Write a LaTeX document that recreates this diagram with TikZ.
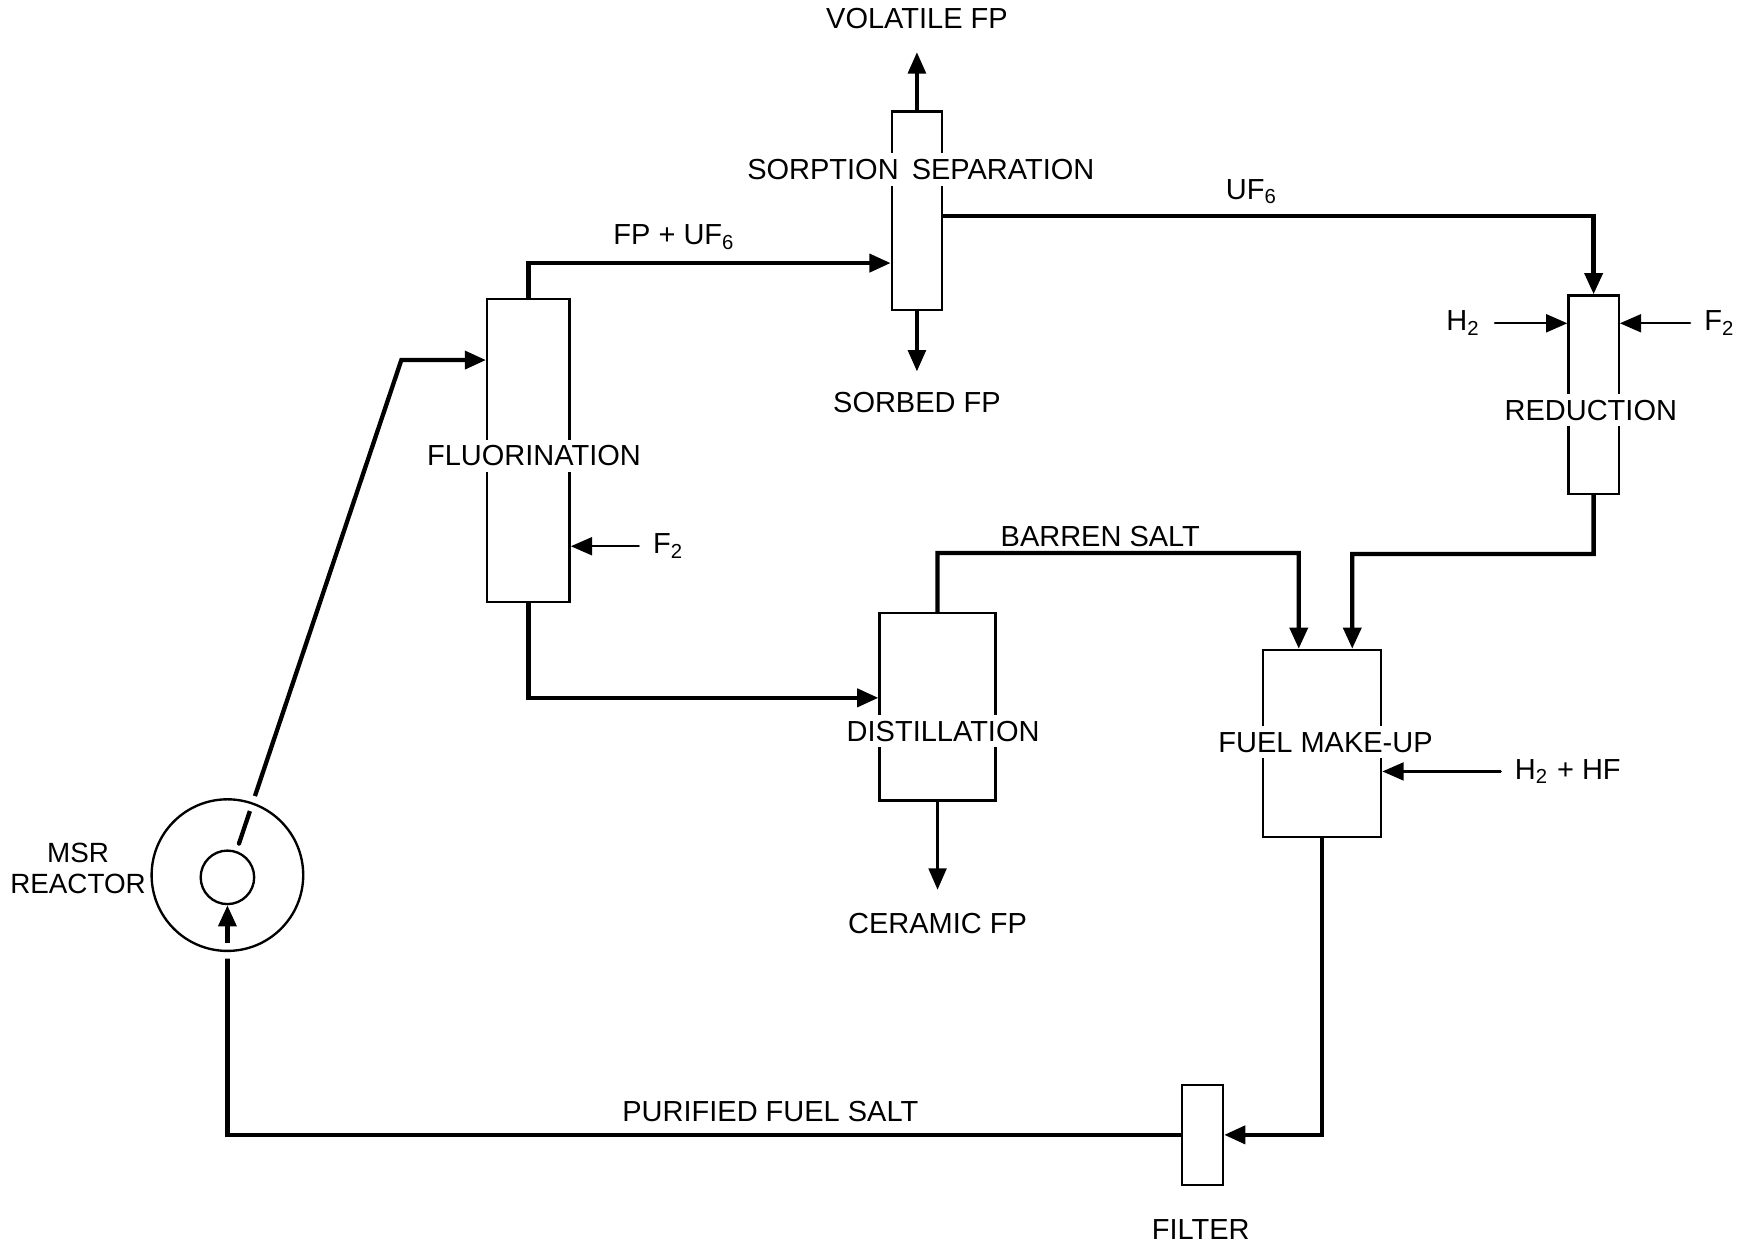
\documentclass[tikz,border=0pt]{standalone}
\usepackage{fontspec}
\setmainfont{Liberation Sans}
\usetikzlibrary{arrows.meta}

\begin{document}
\begin{tikzpicture}[>={Triangle[length=1.9mm,width=1.6mm]},font=\fontsize{7.4}{9}\selectfont,line cap=round,
  unit/.style={draw,line width=0.6pt,inner sep=0pt},
  flow/.style={line width=1.1pt},
  feed/.style={line width=0.6pt},
  cut/.style={fill=white,inner sep=1.5pt}]
\useasboundingbox (0,0) rectangle (15.68,-11.18);
\node[unit,minimum width=7.4mm,minimum height=27.2mm] (fluor) at (4.74,-4.04) {};
\node[unit,minimum width=4.5mm,minimum height=17.8mm] (sorp) at (8.225,-1.89) {};
\node[unit,minimum width=10.4mm,minimum height=16.8mm] (dist) at (8.41,-6.34) {};
\node[unit,minimum width=4.5mm,minimum height=17.8mm] (red) at (14.295,-3.54) {};
\node[unit,minimum width=10.6mm,minimum height=16.8mm] (fuel) at (11.86,-6.67) {};
\node[unit,minimum width=3.7mm,minimum height=9mm] (filter) at (10.785,-10.18) {};
\node[unit,circle,minimum size=4.8mm] (core) at (2.04,-7.87) {};
\draw[flow,->,shorten <=0.7mm] (core.71.6) -- (3.60,-3.23) -- (fluor.west |- 0,-3.23);
\draw[flow,->] (fluor.north) |- (sorp.west |- 0,-2.36);
\draw[flow,->] (fluor.south) |- (dist.west |- 0,-6.26);
\draw[feed,<-] (fluor.east |- 0,-4.90) -- ++(0.61,0) node[right]{F\textsubscript{2}};
\draw[line width=0.8pt,->] (sorp.north) -- ++(0,0.52) node[above=0.8mm]{VOLATILE FP};
\draw[line width=0.8pt,->] (sorp.south) -- ++(0,-0.54) node[below=0.6mm]{SORBED FP};
\draw[flow,->] (sorp.east |- 0,-1.94) -| (red.north);
\draw[feed,<-] (red.west |- 0,-2.90) -- ++(-0.65,0) node[left]{H\textsubscript{2}};
\draw[feed,<-] (red.east |- 0,-2.90) -- ++(0.63,0) node[right]{F\textsubscript{2}};
\draw[flow,->] (dist.north) |- (11.65,-4.96) -- ([xshift=-2.1mm]fuel.north);
\draw[flow,->] (red.south) |- (12.13,-4.97) -- ([xshift=2.7mm]fuel.north);
\draw[feed,->] (dist.south) -- ++(0,-0.79) node[below=0.8mm]{CERAMIC FP};
\draw[feed,<-] (fuel.east |- 0,-6.92) -- ++(1.06,0) node[right]{H\textsubscript{2} + HF};
\draw[flow,->] (fuel.south) |- (filter.east);
\draw[flow,->] (filter.west) -| (core.south);
\node[draw,circle,line width=0.6pt,minimum size=13.6mm,inner sep=0pt,preaction={draw,white,line width=1.4mm}] (vessel) at (2.04,-7.85) {};
\node[cut] (sorptxt) at (8.26,-1.52) {SORPTION\hspace{0.45em}SEPARATION};
\node[cut] (fluortxt) at (4.79,-4.09) {FLUORINATION};
\node[cut] (disttxt) at (8.46,-6.56) {DISTILLATION};
\node[cut] (redtxt) at (14.27,-3.68) {REDUCTION};
\node[cut] (fueltxt) at (11.89,-6.66) {FUEL MAKE-UP};
\node (fpuf) at (6.05,-2.13) {FP + UF\textsubscript{6}};
\node (uf) at (11.23,-1.72) {UF\textsubscript{6}};
\node (barren) at (9.87,-4.81) {BARREN SALT};
\node (purified) at (6.91,-9.97) {PURIFIED FUEL SALT};
\node (filtertxt) at (10.77,-11.03) {FILTER};
\node[align=center,font=\fontsize{7.1}{9}\selectfont] (msr) at (0.70,-7.79) {MSR\\[-0.3mm]REACTOR};
\end{tikzpicture}
\end{document}
